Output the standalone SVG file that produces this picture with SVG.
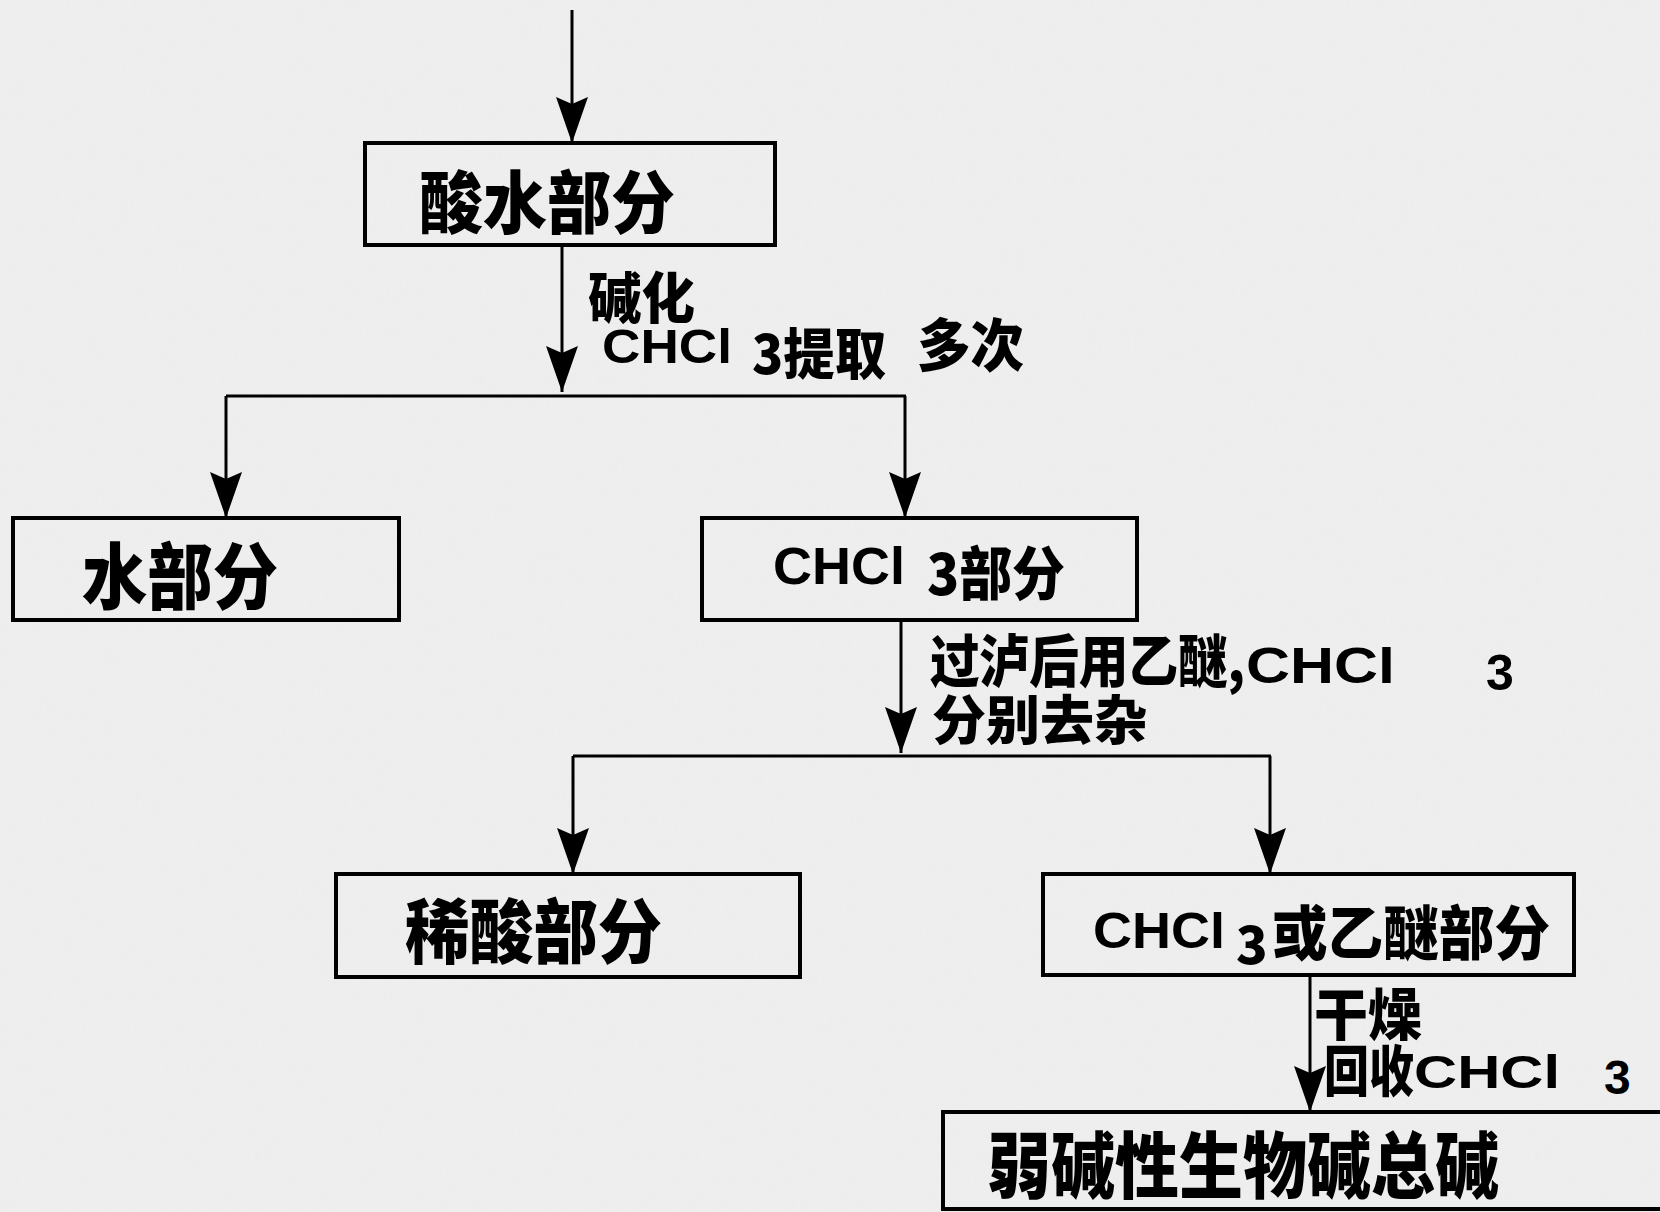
<svg xmlns="http://www.w3.org/2000/svg" width="1660" height="1212" viewBox="0 0 1660 1212">
<style>
.box{fill:none;stroke:#000;stroke-width:4}
.ln{fill:none;stroke:#000;stroke-width:3}
.arr{marker-end:url(#ah)}
.cjk{font-family:"Noto Sans CJK SC","Liberation Sans",sans-serif;font-weight:900;fill:#000}
.lat{font-family:"Liberation Sans",Arial,sans-serif;font-weight:bold;fill:#000}
</style>
<defs>
<marker id="ah" markerUnits="userSpaceOnUse" viewBox="0 0 46 32" refX="46" refY="16" markerWidth="46" markerHeight="32" orient="auto">
<path d="M0,0 L46,16 L0,32 L7,16 Z" fill="#000"/>
</marker>
<filter id="paper" x="0" y="0" width="100%" height="100%">
<feTurbulence type="fractalNoise" baseFrequency="0.6 0.08" numOctaves="3" seed="4"/>
<feColorMatrix type="matrix" values="0 0 0 0 0.75  0 0 0 0 0.75  0 0 0 0 0.75  0 0 0 0.5 0"/>
</filter>
</defs>
<rect width="1660" height="1212" fill="#efefef"/>
<rect width="1660" height="1212" filter="url(#paper)" opacity="0.35"/>

<g id="connectors">
<path class="ln arr" d="M572,10 V143"/>
<path class="ln arr" d="M562,245 V392"/>
<path class="ln" d="M226,396 H906"/>
<path class="ln arr" d="M226,396 V518"/>
<path class="ln arr" d="M905,396 V518"/>
<path class="ln arr" d="M901,620 V753"/>
<path class="ln" d="M573,756 H1271"/>
<path class="ln arr" d="M573,756 V874"/>
<path class="ln arr" d="M1270,756 V874"/>
<path class="ln arr" d="M1310,975 V1112"/>
</g>

<g id="label-1">
<text class="cjk"><tspan x="588" y="318" font-size="55" textLength="107" lengthAdjust="spacingAndGlyphs">碱化</tspan><tspan class="lat" x="602" y="363" font-size="49" textLength="130" lengthAdjust="spacingAndGlyphs">CHCl</tspan><tspan x="752" y="374" font-size="55" textLength="134" lengthAdjust="spacingAndGlyphs">3提取</tspan><tspan x="917" y="366" font-size="57" textLength="107" lengthAdjust="spacingAndGlyphs">多次</tspan></text>
</g>

<g id="label-2">
<text class="cjk"><tspan x="930" y="682" font-size="57" textLength="315" lengthAdjust="spacingAndGlyphs">过泸后用乙醚,</tspan><tspan class="lat" x="1246" y="683" font-size="50" textLength="149" lengthAdjust="spacingAndGlyphs">CHCl</tspan><tspan class="lat" x="1486" y="690" font-size="50">3</tspan><tspan x="932" y="740" font-size="53" textLength="216" lengthAdjust="spacingAndGlyphs">分别去杂</tspan></text>
</g>

<g id="label-3">
<text class="cjk"><tspan x="1314" y="1035" font-size="56" textLength="108" lengthAdjust="spacingAndGlyphs">干燥</tspan><tspan x="1324" y="1091" font-size="55" textLength="90" lengthAdjust="spacingAndGlyphs">回收</tspan><tspan class="lat" x="1414" y="1088" font-size="47" textLength="146" lengthAdjust="spacingAndGlyphs">CHCl</tspan><tspan class="lat" x="1604" y="1094" font-size="48">3</tspan></text>
</g>

<g id="node-acid-water">
<rect class="box" x="365" y="143" width="410" height="102"/>
<text class="cjk" x="419" y="228" font-size="68" textLength="256" lengthAdjust="spacingAndGlyphs">酸水部分</text>
</g>

<g id="node-water">
<rect class="box" x="13" y="518" width="386" height="102"/>
<text class="cjk" x="82" y="603" font-size="72" textLength="196" lengthAdjust="spacingAndGlyphs">水部分</text>
</g>

<g id="node-chcl3">
<rect class="box" x="702" y="518" width="435" height="102"/>
<text class="cjk"><tspan class="lat" x="773" y="584" font-size="52" textLength="132" lengthAdjust="spacingAndGlyphs">CHCl</tspan><tspan x="927" y="595" font-size="58" textLength="138" lengthAdjust="spacingAndGlyphs">3部分</tspan></text>
</g>

<g id="node-dilute-acid">
<rect class="box" x="336" y="874" width="464" height="103"/>
<text class="cjk" x="405" y="958" font-size="70" textLength="257" lengthAdjust="spacingAndGlyphs">稀酸部分</text>
</g>

<g id="node-chcl3-ether">
<rect class="box" x="1043" y="874" width="531" height="101"/>
<text class="cjk"><tspan class="lat" x="1093" y="948" font-size="50" textLength="132" lengthAdjust="spacingAndGlyphs">CHCl</tspan><tspan x="1236" y="964" font-size="52">3</tspan><tspan x="1272" y="955" font-size="59" textLength="278" lengthAdjust="spacingAndGlyphs">或乙醚部分</tspan></text>
</g>

<g id="node-total-alkaloid">
<rect class="box" x="943" y="1112" width="730" height="97"/>
<text class="cjk" x="987" y="1192" font-size="72" textLength="512" lengthAdjust="spacingAndGlyphs">弱碱性生物碱总碱</text>
</g>
</svg>
